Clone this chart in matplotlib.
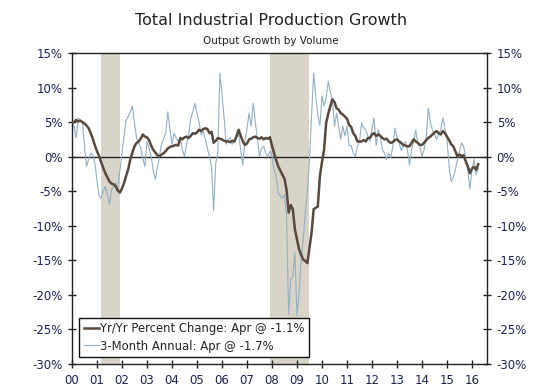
import numpy as np
import matplotlib
matplotlib.use("Agg")
import matplotlib.pyplot as plt
from matplotlib.ticker import FuncFormatter

# monthly values, Jan 2000 .. Apr 2016
yoy = [
    4.9, 5.0, 5.3, 5.1, 5.2, 5.0, 4.8, 4.5, 4.1, 3.4, 2.6, 1.6,          # 2000
    0.8, 0.1, -0.8, -1.6, -2.4, -3.0, -3.6, -3.9, -4.0, -4.3, -4.9, -5.2,  # 2001
    -4.6, -3.8, -2.8, -1.8, -0.4, 0.6, 1.5, 2.0, 2.2, 2.6, 3.2, 2.9,     # 2002
    2.8, 2.4, 1.6, 1.0, 0.6, 0.2, 0.05, 0.3, 0.5, 0.8, 1.2, 1.4,         # 2003
    1.5, 1.6, 1.7, 1.6, 2.7, 2.5, 2.8, 2.9, 2.7, 3.0, 3.4, 3.3,          # 2004
    3.5, 3.9, 3.7, 4.0, 4.1, 4.0, 3.4, 3.6, 2.0, 2.3, 2.7, 2.6,          # 2005
    2.5, 2.3, 2.2, 2.2, 2.1, 2.3, 2.2, 3.0, 3.9, 3.0, 2.2, 1.7,          # 2006
    1.9, 2.5, 2.6, 2.8, 2.9, 2.7, 2.6, 2.8, 2.5, 2.7, 2.6, 2.8,          # 2007
    1.6, 0.5, -0.5, -1.4, -2.0, -2.6, -3.2, -4.8, -8.1, -7.0, -7.6, -10.5,  # 2008
    -12.0, -13.4, -14.2, -14.9, -15.1, -15.4, -13.2, -11.0, -7.6, -7.4, -7.2, -2.8,  # 2009
    -0.8, 1.0, 4.9, 6.2, 7.3, 8.3, 7.9, 7.0, 6.8, 6.3, 6.1, 5.8,         # 2010
    5.5, 4.6, 4.3, 3.4, 3.0, 2.2, 2.2, 2.2, 2.4, 2.2, 2.7, 2.7,          # 2011
    3.2, 3.4, 3.0, 3.2, 3.0, 2.7, 2.5, 2.6, 2.2, 2.0, 2.1, 2.4,          # 2012
    2.5, 2.2, 2.0, 1.7, 1.6, 1.5, 1.5, 2.0, 2.5, 2.2, 2.0, 1.7,          # 2013
    1.7, 2.0, 2.4, 2.7, 2.9, 3.2, 3.5, 3.7, 3.4, 3.2, 3.7, 3.4,          # 2014
    2.9, 2.4, 1.8, 1.5, 0.8, 0.05, 0.3, 0.1, 0.2, -0.7, -1.4, -2.4,      # 2015
    -1.7, -1.5, -1.9, -1.1,                                              # 2016
]

three_month = [
    4.9, 4.4, 2.7, 5.6, 5.3, 5.0, 1.5, -1.4, -0.4, 0.5, 0.2, -0.9,       # 2000
    -3.5, -5.7, -6.0, -5.0, -4.3, -5.5, -6.9, -4.8, -4.2, -3.8, -4.8, -2.0,  # 2001
    0.5, 3.0, 5.3, 5.8, 6.5, 7.3, 4.9, 2.7, 2.0, 1.3, -0.3, -1.4,        # 2002
    2.2, 1.2, 0.05, -2.0, -3.3, -1.5, 0.05, 1.8, 2.6, 3.4, 6.5, 4.0,     # 2003
    1.8, 3.4, 2.7, 2.2, 2.7, 1.0, 0.05, 1.8, 3.2, 5.5, 6.5, 7.7,         # 2004
    6.3, 5.0, 3.2, 3.6, 2.5, 1.2, 0.05, -1.5, -7.8, -1.0, 0.6, 12.1,     # 2005
    9.0, 5.7, 1.8, 2.5, 2.7, 1.8, 2.4, 2.8, 3.2, 1.0, -1.2, 2.2,         # 2006
    4.0, 6.3, 4.4, 7.7, 5.0, 2.6, 0.05, 1.2, 1.5, 0.5, 0.0, 0.8,         # 2007
    0.2, -1.9, -2.8, -5.2, -5.7, -6.0, -5.5, -8.6, -22.8, -17.8, -17.3, -13.9,  # 2008
    -23.0, -19.7, -15.0, -12.0, -8.1, -5.0, -0.4, 6.0, 12.1, 8.8, 6.0, 4.5,  # 2009
    8.8, 7.3, 8.5, 10.9, 9.3, 8.3, 4.4, 6.3, 4.4, 2.5, 4.4, 3.0,         # 2010
    4.4, 1.6, 1.6, 0.5, 0.05, 1.5, 2.2, 4.9, 4.2, 3.9, 3.0, 2.2,         # 2011
    4.0, 5.6, 1.6, 3.9, 3.0, 1.0, 0.5, -0.4, 0.5, -0.2, 1.5, 4.1,        # 2012
    2.9, 2.0, 0.9, 1.5, 2.2, 1.0, -1.2, 1.0, 2.2, 3.9, 1.8, 1.5,         # 2013
    0.0, 1.0, 2.5, 7.0, 5.0, 3.9, 3.2, 2.5, 3.2, 3.9, 5.6, 4.2,          # 2014
    2.5, -1.4, -3.6, -3.0, -1.9, -0.5, 0.8, 2.0, 1.5, -0.4, -2.0, -4.7,  # 2015
    -1.9, -0.4, -2.6, -1.7,                                              # 2016
]

# recessions as (start, end) in fractional years
recessions = [(2001 + 2 / 12, 2001 + 11 / 12), (2007 + 11 / 12, 2009 + 6 / 12)]

year_ticks = list(range(2000, 2017))
dates = 2000 + np.arange(len(yoy)) / 12

fig = plt.figure(figsize=(5.42, 3.91), dpi=100)
ax = fig.add_axes([0.1328, 0.069, 0.7657, 0.7955])

label_col = "#1c2350"

for start, end in recessions:
    ax.axvspan(start, end, color="#d8d4c8", lw=0, zorder=0)

ax.axhline(0, color="#222222", lw=1.0, zorder=1)
ax.plot(dates, three_month, color="#93afc3", lw=0.8, zorder=2,
        label="3-Month Annual: Apr @ -1.7%")
ax.plot(dates, yoy, color="#57493e", lw=1.8, zorder=3,
        label="Yr/Yr Percent Change: Apr @ -1.1%")

ax.set_xlim(2000, 2016.6)
ax.set_ylim(-30, 15)
ax.set_xticks(year_ticks)
ax.set_xticklabels([f"{y % 100:02d}" for y in year_ticks])
ax.set_yticks(range(-30, 16, 5))
ax.yaxis.set_major_formatter(FuncFormatter(lambda v, p: f"{v:.0f}%"))

ax.tick_params(axis="both", direction="inout", length=6, width=1,
               color="#222222", labelsize=8.5, labelcolor=label_col)
ax.tick_params(axis="y", right=True, labelright=True, pad=4)
ax.tick_params(axis="x", pad=4)
for s in ax.spines.values():
    s.set_color("#222222")
    s.set_linewidth(1.0)

handles, labels = ax.get_legend_handles_labels()
leg = ax.legend(handles[::-1], labels[::-1], loc="lower left",
                bbox_to_anchor=(0.017, 0.022), fontsize=8.4, frameon=True,
                fancybox=False, edgecolor="#111111", framealpha=1,
                handlelength=1.3, handletextpad=0.1, borderpad=0.4,
                labelspacing=0.35, borderaxespad=0)
leg.get_frame().set_linewidth(1.0)
for t in leg.get_texts():
    t.set_color("#222222")

fig.text(0.5, 0.935, "Total Industrial Production Growth", ha="center",
         fontsize=11.5, color="#222222")
fig.text(0.5, 0.888, "Output Growth by Volume", ha="center",
         fontsize=7.5, color="#222222")

fig.savefig("out.png", dpi=100)
